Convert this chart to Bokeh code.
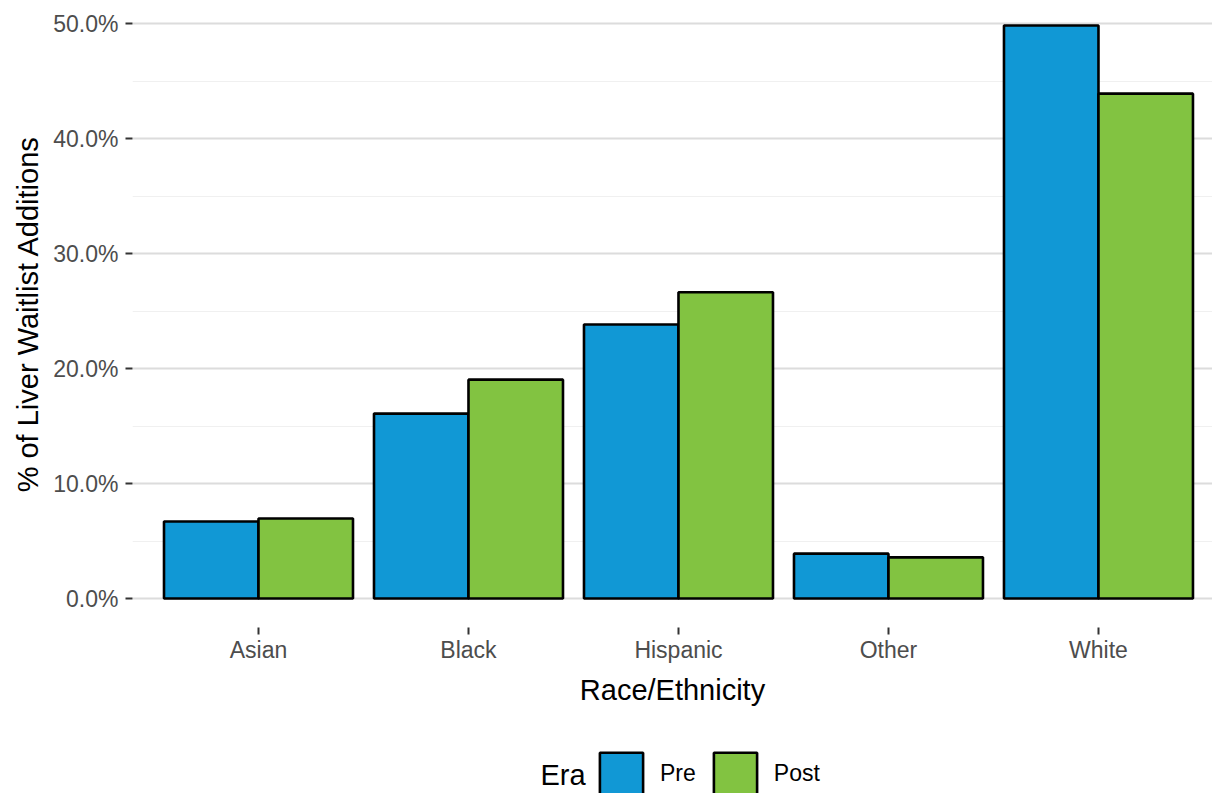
from bokeh.plotting import figure
from bokeh.layouts import column
from bokeh.models import (ColumnDataSource, Range1d, FixedTicker, PrintfTickFormatter,
                          Legend, LegendItem, Label)
from bokeh.transform import dodge
from bokeh.embed import file_html
from bokeh.resources import INLINE

categories = ["Asian", "Black", "Hispanic", "Other", "White"]
pre_values = [6.70, 16.08, 23.83, 3.90, 49.83]
post_values = [6.96, 19.03, 26.63, 3.58, 43.90]
era_labels = ["Pre", "Post"]
era_colors = ["#1198D5", "#82C341"]
y_ticks = [0, 10, 20, 30, 40, 50]
y_minor = [5, 15, 25, 35, 45]

FONT = "Liberation Sans"
positions = list(range(1, len(categories) + 1))
src = ColumnDataSource(dict(x=positions, pre=pre_values, post=post_values))

W = 1212
LEFT = 132
p = figure(width=W, height=740, output_backend="svg", toolbar_location=None,
           x_range=Range1d(0.4, 5.543), y_range=Range1d(-2.52, 52.0),
           min_border_left=LEFT, min_border_right=0, min_border_top=0,
           min_border_bottom=113)
p.outline_line_color = None
p.background_fill_color = "white"
p.border_fill_color = "white"

r_pre = p.vbar(x=dodge("x", -0.225), top="pre", width=0.45, bottom=0, source=src,
               fill_color=era_colors[0], line_color="black", line_width=2.6)
r_post = p.vbar(x=dodge("x", 0.225), top="post", width=0.45, bottom=0, source=src,
                fill_color=era_colors[1], line_color="black", line_width=2.6)

# axes
yax = p.yaxis[0]
yax.ticker = FixedTicker(ticks=y_ticks, minor_ticks=y_minor)
yax.formatter = PrintfTickFormatter(format="%.1f%%")
yax.axis_line_color = None
yax.major_tick_in = 0
yax.major_tick_out = 7
yax.major_tick_line_color = "#333333"
yax.major_tick_line_width = 2
yax.minor_tick_line_color = None
yax.major_label_text_font = FONT
yax.major_label_text_font_size = "23px"
yax.major_label_text_color = "#4D4D4D"
yax.major_label_standoff = 7
yax.axis_label = "% of Liver Waitlist Additions"
yax.axis_label_text_font = FONT
yax.axis_label_text_font_size = "29px"
yax.axis_label_text_font_style = "normal"
yax.axis_label_text_color = "black"
yax.axis_label_standoff = 6

xax = p.xaxis[0]
xax.ticker = FixedTicker(ticks=positions)
xax.major_label_overrides = {pos: c for pos, c in zip(positions, categories)}
xax.axis_line_color = None
xax.major_tick_in = 0
xax.major_tick_out = 7
xax.major_tick_line_color = "#333333"
xax.major_tick_line_width = 2
xax.minor_tick_line_color = None
xax.major_label_text_font = FONT
xax.major_label_text_font_size = "23px"
xax.major_label_text_color = "#4D4D4D"
xax.major_label_standoff = 2
xax.axis_label = "Race/Ethnicity"
xax.axis_label_text_font = FONT
xax.axis_label_text_font_size = "29px"
xax.axis_label_text_font_style = "normal"
xax.axis_label_text_color = "black"
xax.axis_label_standoff = 8

p.xgrid.grid_line_color = None
p.ygrid.grid_line_color = "#DCDCDC"
p.ygrid.grid_line_width = 2
p.ygrid.minor_grid_line_color = "#F0F0F0"
p.ygrid.minor_grid_line_width = 1

# legend strip below the chart (its frame is aligned with the main frame)
lg = figure(width=W, height=53, output_backend="svg", toolbar_location=None,
            x_range=Range1d(LEFT, W), y_range=Range1d(0, 53),
            x_axis_location=None, y_axis_location=None,
            min_border_left=LEFT, min_border_right=0, min_border_top=0,
            min_border_bottom=0)
lg.outline_line_color = None
lg.grid.grid_line_color = None
lg.border_fill_color = "white"
l_pre = lg.vbar(x="x", top="pre", width=0.45, source=src, visible=False,
                fill_color=era_colors[0], line_color="black", line_width=2.6)
l_post = lg.vbar(x="x", top="post", width=0.45, source=src, visible=False,
                 fill_color=era_colors[1], line_color="black", line_width=2.6)
legend = Legend(items=[LegendItem(label=era_labels[0], renderers=[l_pre]),
                       LegendItem(label=era_labels[1], renderers=[l_post])],
                orientation="horizontal", location=(462 , -6),
                label_text_font=FONT, label_text_font_size="23px",
                label_text_color="black", label_standoff=12,
                glyph_width=54, glyph_height=52, spacing=12,
                padding=0, margin=0, inactive_fill_alpha=0,
                border_line_color=None, background_fill_alpha=0)
lg.add_layout(legend, "center")
lg.add_layout(Label(x=540, y=19, text="Era", text_font=FONT,
                    text_font_size="29px", text_color="black",
                    text_baseline="middle", text_align="left"))

open("out.html", "w").write(file_html(column(p, lg, spacing=0), INLINE))
